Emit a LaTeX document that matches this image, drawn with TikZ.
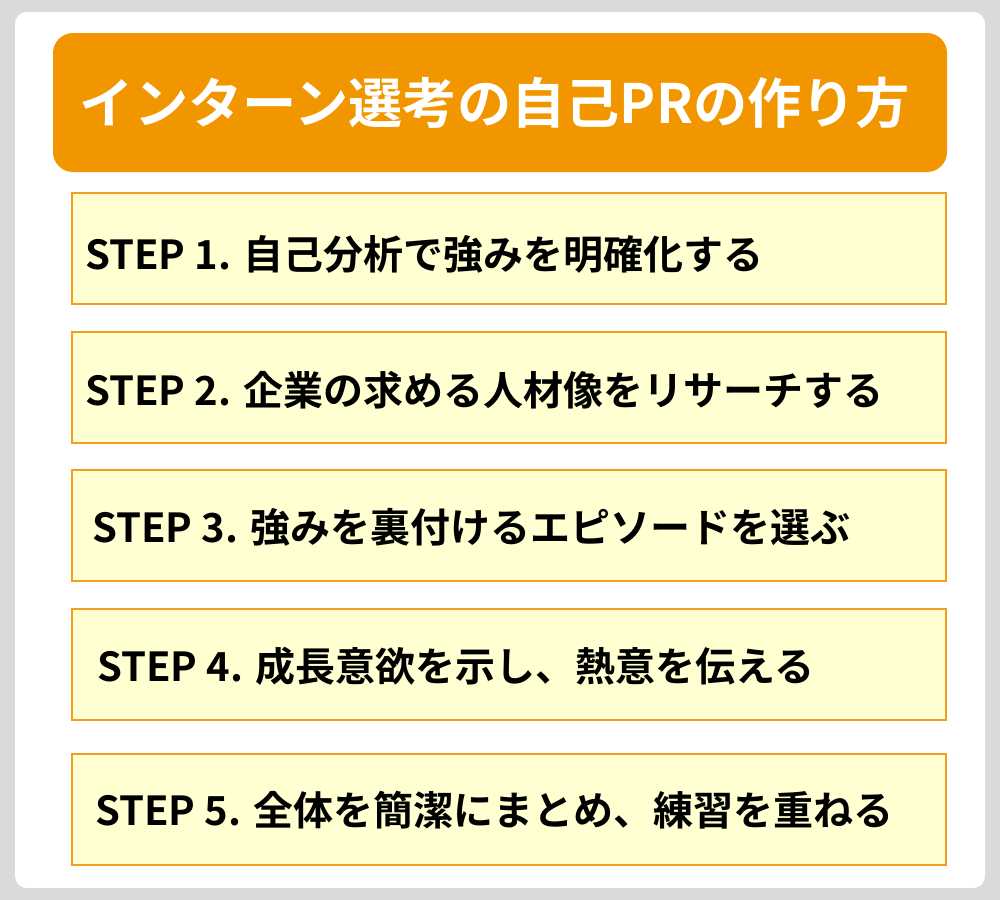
\documentclass[tikz,border=0pt]{standalone}
\usepackage{fontspec}
\setmainfont{Noto Sans CJK JP}[BoldFont={* Bold}]
\definecolor{bggray}{HTML}{DADADA}
\definecolor{titleorange}{HTML}{F29600}
\definecolor{stepfill}{HTML}{FFFFD2}
\definecolor{stepline}{HTML}{F29E1E}
\tikzset{stepbox/.style={draw=stepline, line width=1.8pt, fill=stepfill},
         steptext/.style={anchor=west, inner sep=0pt, font=\bfseries\fontsize{30}{32}\selectfont}}
\begin{document}
\begin{tikzpicture}[x=0.75pt,y=-0.75pt]
        \useasboundingbox (0,0) rectangle (1000,900);
        \fill[bggray] (0,0) rectangle (1000,900);
        \fill[white, rounded corners=9pt] (15,12) rectangle (985,888);

        % Title
        \fill[titleorange, rounded corners=15pt] (53,33) rectangle (947,172);
        \node[inner sep=0pt, text=white, font=\bfseries\fontsize{40.7}{44}\selectfont] (title) at (495,103) {インターン選考の自己PRの作り方};

        % Steps
        \draw[stepbox] (72,193) rectangle (946,304);
        \node[steptext] (s1) at (85,254) {STEP 1. 自己分析で強みを明確化する};
        \draw[stepbox] (72,332) rectangle (946,443);
        \node[steptext] (s2) at (85,390) {STEP 2. 企業の求める人材像をリサーチする};
        \draw[stepbox] (72,470) rectangle (946,581);
        \node[steptext] (s3) at (92,527) {STEP 3. 強みを裏付けるエピソードを選ぶ};
        \draw[stepbox] (72,609) rectangle (946,720);
        \node[steptext] (s4) at (97,666) {STEP 4. 成長意欲を示し、熱意を伝える};
        \draw[stepbox] (72,754) rectangle (946,865);
        \node[steptext] (s5) at (95,810) {STEP 5. 全体を簡潔にまとめ、練習を重ねる};
\end{tikzpicture}
\end{document}
